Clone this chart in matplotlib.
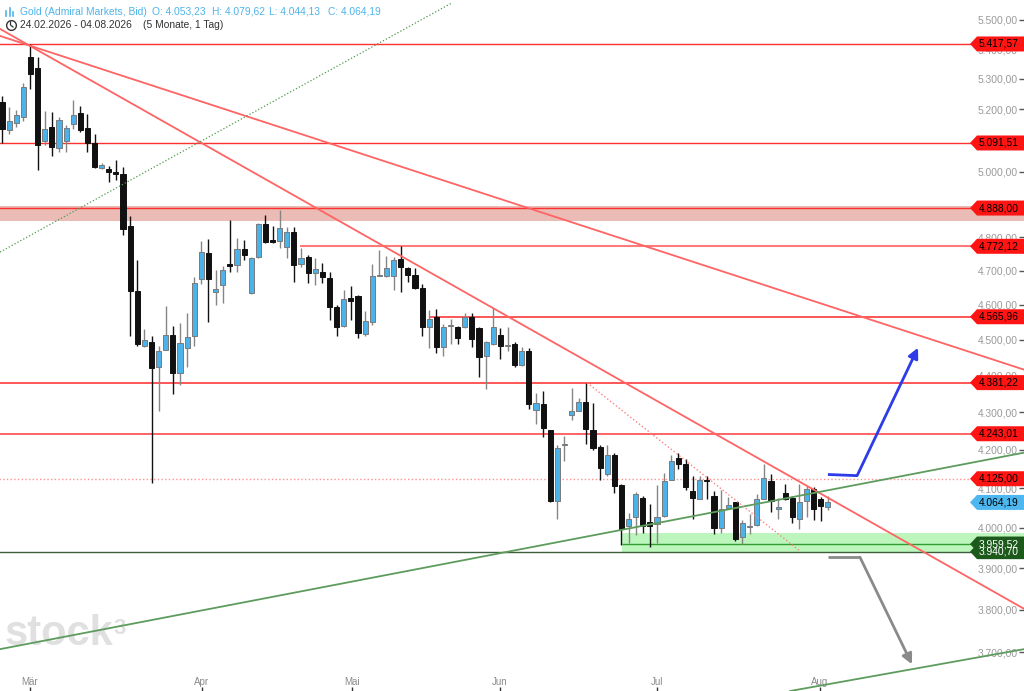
import numpy as np
import matplotlib
matplotlib.use("Agg")
import matplotlib.pyplot as plt
from matplotlib.patches import Polygon
from matplotlib.ticker import FixedLocator, FuncFormatter, NullLocator
from matplotlib.transforms import blended_transform_factory

W, H = 1024, 691

# daily candles, 24.02.2026 - 04.08.2026
opens = [5223, 5134, 5155, 5175, 5372, 5336, 5097, 5142, 5077, 5097,
         5151, 5187, 5141, 5090, 5013, 5008, 4999, 4995, 4833, 4641,
         4482, 4493, 4423, 4472, 4514, 4409, 4477, 4510, 4674, 4751,
         4638, 4658, 4719, 4716, 4764, 4634, 4739, 4838, 4790, 4788,
         4769, 4815, 4719, 4741, 4694, 4695, 4677, 4593, 4540, 4619,
         4625, 4517, 4552, 4685, 4685, 4685, 4733, 4708, 4687, 4650,
         4536, 4564, 4479, 4540, 4536, 4536, 4566, 4534, 4456, 4489,
         4514, 4482, 4488, 4431, 4470, 4307, 4324, 4252, 4068, 4212,
         4294, 4305, 4327, 4254, 4208, 4136, 4188, 4110, 4004, 4026,
         4076, 4014, 4009, 4031, 4123, 4178, 4162, 4093, 4074, 4123,
         4080, 4000, 4051, 4064, 3976, 4003, 4007, 4074, 4119, 4047,
         4089, 4076, 4023, 4068, 4099, 4072, 4053.23]
highs = [5245, 5209, 5199, 5285, 5417.57, 5375, 5196, 5191, 5174, 5148,
         5232, 5212, 5186, 5119, 5027, 5017, 5036, 5014, 4863, 4731,
         4532, 4512, 4482, 4598, 4540, 4549, 4576, 4680, 4788, 4793,
         4701, 4713, 4851, 4796, 4790, 4741, 4843, 4866, 4833, 4883,
         4829, 4831, 4766, 4746, 4736, 4723, 4697, 4600, 4643, 4656,
         4628, 4583, 4718, 4761, 4744, 4739, 4773, 4711, 4708, 4660,
         4586, 4588, 4545, 4560, 4540, 4576, 4578, 4536, 4498, 4590,
         4534, 4536, 4494, 4480, 4477, 4353, 4359, 4254, 4214, 4236,
         4366, 4339, 4381.22, 4325, 4214, 4214, 4191, 4112, 4038, 4091,
         4080, 4059, 4110, 4139, 4188, 4191, 4177, 4132, 4132, 4133,
         4093, 4097, 4078, 4065, 4019, 4034, 4085, 4162, 4136, 4076,
         4112, 4080, 4112, 4107, 4104, 4079, 4079.62]
lows = [5090, 5119, 5142, 5162, 5268, 5005, 5084, 5049, 5063, 5063,
        5136, 5126, 5063, 5011, 5008, 4968, 4974, 4805, 4512, 4482,
        4481, 4115, 4305, 4472, 4351, 4375, 4423, 4482, 4660, 4552,
        4600, 4605, 4697, 4695, 4731, 4632, 4738, 4782, 4781, 4766,
        4736, 4667, 4711, 4663, 4658, 4663, 4557, 4510, 4538, 4557,
        4505, 4512, 4543, 4684, 4680, 4643, 4638, 4667, 4645, 4510,
        4477, 4463, 4454, 4488, 4489, 4534, 4480, 4398, 4364, 4486,
        4446, 4470, 4423, 4426, 4309, 4270, 4235, 4065, 4023, 4171,
        4279, 4303, 4217, 4201, 4123, 4132, 4089, 3957, 3961, 3981,
        3986, 3953, 3961, 4028, 4121, 4151, 4095, 4023, 4072, 4074,
        3984, 3986, 4047, 3967, 3959, 3984, 4004, 4072, 4040, 4021,
        4070, 4011, 3996, 4028, 4019, 4017, 4044.13]
closes = [5137, 5162, 5180, 5275, 5317, 5084, 5135, 5079, 5167, 5141,
          5183, 5134, 5091, 5015, 5021, 4999, 4992, 4824, 4641, 4489,
          4500, 4421, 4470, 4513, 4409, 4491, 4508, 4663, 4754, 4674,
          4646, 4701, 4713, 4763, 4746, 4736, 4838, 4785, 4784, 4826,
          4815, 4716, 4736, 4693, 4705, 4680, 4593, 4538, 4617, 4611,
          4519, 4554, 4685, 4687, 4709, 4731, 4711, 4687, 4648, 4538,
          4560, 4479, 4538, 4543, 4505, 4566, 4503, 4452, 4493, 4536,
          4482, 4484, 4429, 4470, 4324, 4325, 4257, 4068, 4206, 4214,
          4305, 4328, 4256, 4206, 4153, 4188, 4106, 3996, 4021, 4085,
          4004, 4004, 4026, 4119, 4172, 4162, 4104, 4076, 4121, 4119,
          4000, 4048, 4057, 3973, 4013, 4004, 4074, 4126, 4068, 4052,
          4074, 4026, 4064, 4099, 4047, 4055, 4064.19]

month_labels = ["Mär", "Apr", "Mai", "Jun", "Jul", "Aug"]
month_pos = [3.93, 28.09, 49.16, 69.94, 91.99, 114.89]
price_ticks = list(range(3700, 5501, 100))

# horizontal levels: price, start index, colour, width, style
levels = [
    (5417.57, None, "#ff3030", 1.0, "-"),
    (5091.51, None, "#ff3030", 1.0, "-"),
    (4888.00, None, "#ff3030", 1.0, "-"),
    (4772.12, 41.85, "#ff7a7a", 1.5, "-"),
    (4565.96, 60.1, "#ff3a3a", 1.2, "-"),
    (4381.22, None, "#ff3a3a", 1.2, "-"),
    (4243.01, None, "#ff4a4a", 1.2, "-"),
    (4125.00, None, "#ff9090", 1.0, ":"),
    (3940.70, None, "#3d5e3d", 1.0, "-"),
    (3959.52, 87.08, "#2f9e2f", 1.0, "-"),
]
resist_zone = (4848, 4895)
support_zone = (3941, 3986, 87.08)

# price tags on the right: price, text, face colour, text colour
tags = [
    (5417.57, "5.417,57", "#ff1414", "black"),
    (5091.51, "5.091,51", "#ff1414", "black"),
    (4888.00, "4.888,00", "#ff1414", "black"),
    (4772.12, "4.772,12", "#ff1414", "black"),
    (4565.96, "4.565,96", "#ff1414", "black"),
    (4381.22, "4.381,22", "#ff1414", "black"),
    (4243.01, "4.243,01", "#ff1414", "black"),
    (4125.00, "4.125,00", "#ff1414", "black"),
    (4064.19, "4.064,19", "#4db8f0", "black"),
    (3940.70, "3.940,70", "#1c5a1c", "white"),
    (3959.52, "3.959,52", "#1c5a1c", "white"),
]

# trend lines: (index, price) -> (index, price), colour, width, style
trends = [
    ((-0.28, 5469), (143.54, 3802), "#ff6464", 1.3, "-"),
    ((-0.28, 5445), (143.54, 4417), "#ff6464", 1.3, "-"),
    ((-0.28, 4755), (63.2, 5559), "#4f9a4f", 0.9, ":"),
    ((-0.28, 3707), (143.54, 4193), "#5e9c5e", 1.3, "-"),
    ((110.7, 3611), (143.54, 3707), "#5e9c5e", 1.3, "-"),
    ((82.16, 4381), (112.08, 3942), "#ff8080", 1.0, ":"),
]
blue_arrow = [(116.0, 4136), (120.1, 4133), (128.65, 4478)]
grey_arrow = [(116.0, 3927), (120.5, 3927), (127.8, 3672)]

plt.rcParams["font.family"] = ["Liberation Sans", "DejaVu Sans"]

fig = plt.figure(figsize=(W / 100, H / 100), dpi=100)
ax = fig.add_axes([0, 0, 1, 1])
ax.set_yscale("log")
ymin, ymax = 3611, 5569
ax.set_xlim(-0.281, 143.54)
ax.set_ylim(ymin, ymax)
for s in ax.spines.values():
    s.set_visible(False)

blend = blended_transform_factory(ax.transAxes, ax.transData)
k = np.log(ymax / ymin) / H  # log units per pixel


def px(x, y):
    return x / W, 1 - y / H


def de(v):
    return f"{v:,.2f}".replace(",", "X").replace(".", ",").replace("X", ".")


# watermark
ax.text(*px(4, 645), "stock", transform=ax.transAxes, fontsize=30,
        fontweight="bold", color="#e0e0e0", va="baseline", ha="left",
        zorder=0.5)
ax.text(*px(113, 634), "3", transform=ax.transAxes, fontsize=16,
        fontweight="bold", color="#e0e0e0", va="baseline", ha="left",
        zorder=0.5)

# zones and levels
ax.axhspan(*resist_zone, color="#ebbbb5", lw=0, zorder=1)
ax.axhspan(support_zone[0], support_zone[1],
           xmin=(2 + 7.12 * support_zone[2]) / W, xmax=1,
           color="#bdf6bd", lw=0, zorder=1)
for price, start, col, lw, ls in levels:
    x0 = -1 if start is None else start
    ax.hlines(price, x0, 150, colors=col, lw=lw, linestyles=ls, zorder=2)

# candles
idx = np.arange(len(opens))
o, h, l, c = map(np.array, (opens, highs, lows, closes))
up = c >= o
bot = np.minimum(o, c)
top = np.maximum(np.maximum(o, c), bot * 1.0007)
ax.vlines(idx[up], l[up], h[up], colors="#858585", lw=1, zorder=3)
ax.vlines(idx[~up], l[~up], h[~up], colors="#111111", lw=1, zorder=3)
ax.bar(idx[up], top[up] - bot[up], bottom=bot[up], width=0.72,
       color="#4cb2ea", edgecolor="#7a7a7a", lw=0.7, zorder=3.2)
ax.bar(idx[~up], top[~up] - bot[~up], bottom=bot[~up], width=0.72,
       color="#111111", edgecolor="#111111", lw=0.7, zorder=3.2)

# trend lines
for p1, p2, col, lw, ls in trends:
    ax.plot([p1[0], p2[0]], [p1[1], p2[1]], color=col, lw=lw, ls=ls,
            zorder=4)

# arrows
for pts, col in ((blue_arrow, "#2d3be8"), (grey_arrow, "#8a8a8a")):
    ax.plot([pts[0][0], pts[1][0]], [pts[0][1], pts[1][1]], color=col,
            lw=2, zorder=5, solid_capstyle="butt")
    ax.annotate("", xy=pts[2], xytext=pts[1],
                arrowprops=dict(arrowstyle="-|>", color=col, lw=2,
                                mutation_scale=15, shrinkA=0, shrinkB=0),
                zorder=5)

# axes ticks
ax.yaxis.tick_right()
ax.yaxis.set_major_locator(FixedLocator(price_ticks))
ax.yaxis.set_minor_locator(NullLocator())
ax.yaxis.set_major_formatter(FuncFormatter(lambda v, p: de(v)))
ax.tick_params(axis="y", direction="in", length=3.5, width=1, color="#555555",
               pad=-4.5, labelsize=7.4, labelcolor="#9a9a9a")
plt.setp(ax.get_yticklabels(), ha="right")

ax.xaxis.set_major_locator(FixedLocator(month_pos))
ax.xaxis.set_major_formatter(FuncFormatter(
    lambda v, p: month_labels[month_pos.index(v)] if v in month_pos else ""))
ax.tick_params(axis="x", direction="in", length=3, width=1, color="#333333",
               pad=-10, labelsize=7, labelcolor="#8a8a8a")

# price tags
for price, text, fc, tc in tags:
    hi, lo = price * np.exp(7.5 * k), price * np.exp(-7.5 * k)
    verts = [(970 / W, price), (977 / W, hi), (1.0, hi), (1.0, lo), (977 / W, lo)]
    ax.add_patch(Polygon(verts, closed=True, transform=blend, facecolor=fc,
                         edgecolor="none", zorder=6, clip_on=False))
    ax.text(998.5 / W, price, text, transform=blend, ha="center",
            va="center", fontsize=7.4, color=tc, zorder=6.5)

# header
hdr = "#4fb4ea"
for xx, hh in ((6, 5), (9.5, 8), (13, 4)):
    ax.plot([xx / W, xx / W], [1 - 16 / H, 1 - (16 - hh) / H], color=hdr,
            lw=1.2, transform=ax.transAxes, zorder=7)
for xx, txt in ((20, "Gold (Admiral Markets, Bid)"), (152, "O: 4.053,23"),
                (212, "H: 4.079,62"), (269, "L: 4.044,13"), (328, "C: 4.064,19")):
    ax.text(*px(xx, 12), txt, transform=ax.transAxes, fontsize=7.4,
            color=hdr, ha="left", va="center", zorder=7)
ax.plot(*px(10.5, 25), marker="o", markersize=7, markerfacecolor="none",
        markeredgecolor="#333333", markeredgewidth=1,
        transform=ax.transAxes, zorder=7)
ax.plot([10.5 / W, 10.5 / W, 13 / W], [1 - 22 / H, 1 - 25 / H, 1 - 27 / H],
        color="#333333", lw=0.9, transform=ax.transAxes, zorder=7)
ax.text(*px(20, 25), "24.02.2026 - 04.08.2026", transform=ax.transAxes,
        fontsize=7.4, color="#333333", ha="left", va="center", zorder=7)
ax.text(*px(143, 25), "(5 Monate, 1 Tag)", transform=ax.transAxes,
        fontsize=7.4, color="#333333", ha="left", va="center", zorder=7)

fig.savefig("out.png", dpi=100)
